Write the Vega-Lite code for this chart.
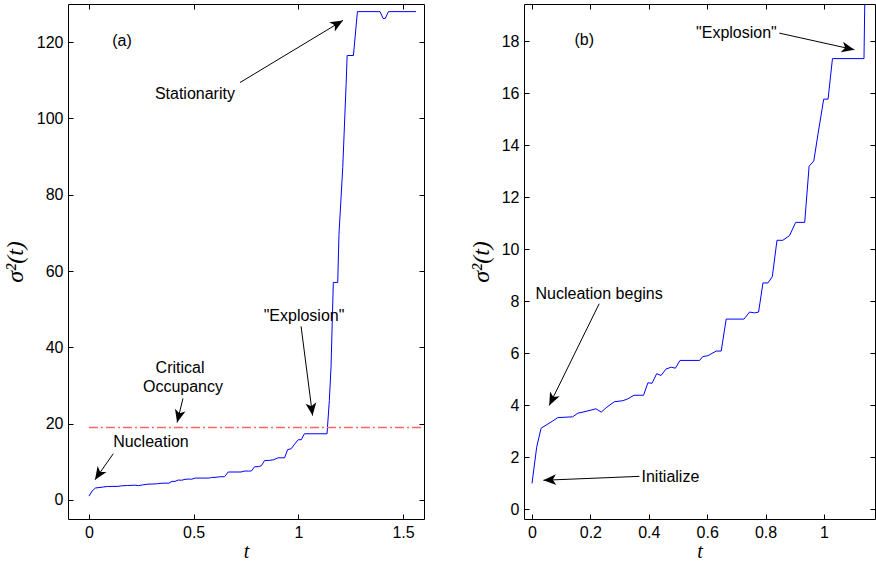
{
  "$schema": "https://vega.github.io/schema/vega-lite/v6.json",
  "padding": {"left": 2, "top": 3, "right": 0, "bottom": 0},
  "background": "white",
  "bounds": "flush",
  "spacing": 100,
  "config": {
    "view": {"stroke": "black", "strokeWidth": 1},
    "axis": {
      "grid": false, "domain": false, "tickColor": "black", "tickSize": -5, "tickWidth": 1,
      "labelColor": "black", "labelFont": "Liberation Sans", "labelFontSize": 16, "labelPadding": 10,
      "titleColor": "black", "titleFont": "Liberation Serif", "titleFontStyle": "italic", "titleFontWeight": "normal",
      "format": "~f"
    },
    "text": {"font": "Liberation Sans", "fontSize": 16, "color": "black"}
  },
  "datasets": {
    "sigma": [
      {"t": 0, "v": 1.0}, {"t": 0.016, "v": 2.39}, {"t": 0.031, "v": 3.12}, {"t": 0.071, "v": 3.40},
      {"t": 0.088, "v": 3.53}, {"t": 0.139, "v": 3.56}, {"t": 0.157, "v": 3.70}, {"t": 0.185, "v": 3.77},
      {"t": 0.219, "v": 3.87}, {"t": 0.237, "v": 3.74}, {"t": 0.254, "v": 3.91}, {"t": 0.282, "v": 4.14},
      {"t": 0.311, "v": 4.18}, {"t": 0.328, "v": 4.25}, {"t": 0.349, "v": 4.39}, {"t": 0.382, "v": 4.39},
      {"t": 0.397, "v": 4.87}, {"t": 0.411, "v": 4.85}, {"t": 0.427, "v": 5.22}, {"t": 0.442, "v": 5.15},
      {"t": 0.459, "v": 5.40}, {"t": 0.477, "v": 5.47}, {"t": 0.491, "v": 5.43}, {"t": 0.507, "v": 5.73},
      {"t": 0.574, "v": 5.73}, {"t": 0.585, "v": 5.88}, {"t": 0.602, "v": 5.91}, {"t": 0.631, "v": 6.09},
      {"t": 0.648, "v": 6.09}, {"t": 0.665, "v": 7.32}, {"t": 0.726, "v": 7.32}, {"t": 0.745, "v": 7.59},
      {"t": 0.762, "v": 7.56}, {"t": 0.776, "v": 7.59}, {"t": 0.791, "v": 8.71}, {"t": 0.808, "v": 8.71},
      {"t": 0.823, "v": 8.95}, {"t": 0.839, "v": 10.35}, {"t": 0.859, "v": 10.35}, {"t": 0.882, "v": 10.53},
      {"t": 0.903, "v": 11.04}, {"t": 0.934, "v": 11.04}, {"t": 0.949, "v": 13.20}, {"t": 0.965, "v": 13.40},
      {"t": 0.979, "v": 14.40}, {"t": 0.999, "v": 15.78}, {"t": 1.014, "v": 15.78}, {"t": 1.029, "v": 17.34},
      {"t": 1.137, "v": 17.34}, {"t": 1.148, "v": 26.1}, {"t": 1.156, "v": 34.8}, {"t": 1.167, "v": 57.0},
      {"t": 1.188, "v": 57.0}, {"t": 1.194, "v": 69.6}, {"t": 1.212, "v": 87.1}, {"t": 1.228, "v": 108.9},
      {"t": 1.233, "v": 116.5}, {"t": 1.263, "v": 116.5}, {"t": 1.282, "v": 128.0}, {"t": 1.39, "v": 128.0},
      {"t": 1.405, "v": 126.2}, {"t": 1.415, "v": 126.2}, {"t": 1.43, "v": 128.0}, {"t": 1.562, "v": 128.0}
    ],
    "critical": [{"t": 0, "t2": 1.6, "v": 19}],
    "labels": [
      {"panel": "a", "t": 0.158, "v": 120.4, "text": "(a)"},
      {"panel": "a", "t": 0.506, "v": 106.5, "text": "Stationarity"},
      {"panel": "a", "t": 0.435, "v": 34.7, "text": "Critical"},
      {"panel": "a", "t": 0.449, "v": 29.7, "text": "Occupancy"},
      {"panel": "a", "t": 1.027, "v": 48.1, "text": "\"Explosion\""},
      {"panel": "a", "t": 0.296, "v": 15.3, "text": "Nucleation"},
      {"panel": "b", "t": 0.179, "v": 18.04, "text": "(b)"},
      {"panel": "b", "t": 0.700, "v": 18.31, "text": "\"Explosion\""},
      {"panel": "b", "t": 0.230, "v": 8.29, "text": "Nucleation begins"},
      {"panel": "b", "t": 0.474, "v": 1.24, "text": "Initialize"}
    ],
    "arrows": [
      {"panel": "a", "t": 0.721, "v": 109.4, "t2": 1.213, "v2": 125.7, "dir": 59},
      {"panel": "a", "t": 0.449, "v": 26.6, "t2": 0.421, "v2": 20.3, "dir": -166},
      {"panel": "a", "t": 1.013, "v": 45.5, "t2": 1.068, "v2": 22.1, "dir": 172.6},
      {"panel": "a", "t": 0.116, "v": 12.1, "t2": 0.029, "v2": 5.3, "dir": -146.4},
      {"panel": "b", "t": 0.847, "v": 18.32, "t2": 1.104, "v2": 17.68, "dir": 102.5},
      {"panel": "b", "t": 0.230, "v": 7.91, "t2": 0.059, "v2": 4.0, "dir": -153.8},
      {"panel": "b", "t": 0.368, "v": 1.27, "t2": 0.039, "v2": 1.12, "dir": -92.4}
    ]
  },
  "hconcat": [
    {
      "width": 356,
      "height": 515,
      "layer": [
        {
          "data": {"name": "sigma"},
          "mark": {"type": "line", "color": "#0000ff", "strokeWidth": 1, "clip": true},
          "encoding": {
            "x": {"field": "t", "type": "quantitative", "scale": {"domain": [-0.1, 1.6], "nice": false, "zero": false},
                  "axis": {"values": [0, 0.5, 1, 1.5], "title": "t", "titleFontSize": 20, "titleY": 38, "titleBaseline": "alphabetic"}},
            "y": {"field": "v", "type": "quantitative", "scale": {"domain": [-5, 130], "nice": false, "zero": false},
                  "axis": {"values": [0, 20, 40, 60, 80, 100, 120], "title": "σ²(t)", "titleFontSize": 24, "titleX": -46, "titleY": 257.5, "titleAngle": 270, "titleBaseline": "alphabetic", "titleAlign": "center"}}
          }
        },
        {
          "data": {"name": "critical"},
          "mark": {"type": "rule", "color": "#ff6464", "strokeWidth": 1.6, "strokeDash": [9, 3, 2, 3]},
          "encoding": {
            "x": {"field": "t", "type": "quantitative", "axis": null},
            "x2": {"field": "t2"},
            "y": {"field": "v", "type": "quantitative", "axis": null}
          }
        },
        {
          "data": {"name": "arrows"},
          "transform": [{"filter": "datum.panel === 'a'"}],
          "mark": {"type": "rule", "color": "black", "strokeWidth": 1},
          "encoding": {
            "x": {"field": "t", "type": "quantitative", "axis": null},
            "y": {"field": "v", "type": "quantitative", "axis": null},
            "x2": {"field": "t2"},
            "y2": {"field": "v2"}
          }
        },
        {
          "data": {"name": "arrows"},
          "transform": [{"filter": "datum.panel === 'a'"}],
          "mark": {"type": "point", "shape": "M0,0 L0.8,1.9 L0,1.4 L-0.8,1.9 Z", "filled": true, "color": "black", "opacity": 1, "size": 180, "strokeWidth": 0},
          "encoding": {
            "x": {"field": "t2", "type": "quantitative", "axis": null},
            "y": {"field": "v2", "type": "quantitative", "axis": null},
            "angle": {"field": "dir", "type": "quantitative", "scale": null}
          }
        },
        {
          "data": {"name": "labels"},
          "transform": [{"filter": "datum.panel === 'a'"}],
          "mark": {"type": "text", "align": "center", "baseline": "middle"},
          "encoding": {
            "x": {"field": "t", "type": "quantitative", "axis": null},
            "y": {"field": "v", "type": "quantitative", "axis": null},
            "text": {"field": "text"}
          }
        },
        {
          "data": {"name": "critical"},
          "mark": {"type": "point", "opacity": 0},
          "encoding": {
            "x": {"field": "t", "type": "quantitative", "axis": {"orient": "top", "labels": false, "title": null, "values": [0, 0.5, 1, 1.5]}},
            "y": {"field": "v", "type": "quantitative", "axis": {"orient": "right", "labels": false, "title": null, "values": [0, 20, 40, 60, 80, 100, 120]}}
          }
        }
      ],
      "resolve": {"axis": {"x": "independent", "y": "independent"}}
    },
    {
      "width": 351,
      "height": 515,
      "layer": [
        {
          "data": {"name": "sigma"},
          "mark": {"type": "line", "color": "#0000ff", "strokeWidth": 1, "clip": true},
          "encoding": {
            "x": {"field": "t", "type": "quantitative", "scale": {"domain": [-0.0274, 1.1747], "nice": false, "zero": false},
                  "axis": {"values": [0, 0.2, 0.4, 0.6, 0.8, 1], "title": "t", "titleFontSize": 20, "titleY": 38, "titleBaseline": "alphabetic"}},
            "y": {"field": "v", "type": "quantitative", "scale": {"domain": [-0.37, 19.44], "nice": false, "zero": false},
                  "axis": {"values": [0, 2, 4, 6, 8, 10, 12, 14, 16, 18], "title": "σ²(t)", "titleFontSize": 24, "titleX": -36, "titleY": 257.5, "titleAngle": 270, "titleBaseline": "alphabetic", "titleAlign": "center"}}
          }
        },
        {
          "data": {"name": "arrows"},
          "transform": [{"filter": "datum.panel === 'b'"}],
          "mark": {"type": "rule", "color": "black", "strokeWidth": 1},
          "encoding": {
            "x": {"field": "t", "type": "quantitative", "axis": null},
            "y": {"field": "v", "type": "quantitative", "axis": null},
            "x2": {"field": "t2"},
            "y2": {"field": "v2"}
          }
        },
        {
          "data": {"name": "arrows"},
          "transform": [{"filter": "datum.panel === 'b'"}],
          "mark": {"type": "point", "shape": "M0,0 L0.8,1.9 L0,1.4 L-0.8,1.9 Z", "filled": true, "color": "black", "opacity": 1, "size": 180, "strokeWidth": 0},
          "encoding": {
            "x": {"field": "t2", "type": "quantitative", "axis": null},
            "y": {"field": "v2", "type": "quantitative", "axis": null},
            "angle": {"field": "dir", "type": "quantitative", "scale": null}
          }
        },
        {
          "data": {"name": "labels"},
          "transform": [{"filter": "datum.panel === 'b'"}],
          "mark": {"type": "text", "align": "center", "baseline": "middle"},
          "encoding": {
            "x": {"field": "t", "type": "quantitative", "axis": null},
            "y": {"field": "v", "type": "quantitative", "axis": null},
            "text": {"field": "text"}
          }
        },
        {
          "data": {"name": "critical"},
          "mark": {"type": "point", "opacity": 0},
          "encoding": {
            "x": {"field": "t", "type": "quantitative", "axis": {"orient": "top", "labels": false, "title": null, "values": [0, 0.2, 0.4, 0.6, 0.8, 1]}},
            "y": {"field": "v", "type": "quantitative", "axis": {"orient": "right", "labels": false, "title": null, "values": [0, 2, 4, 6, 8, 10, 12, 14, 16, 18]}}
          }
        }
      ],
      "resolve": {"axis": {"x": "independent", "y": "independent"}}
    }
  ]
}
